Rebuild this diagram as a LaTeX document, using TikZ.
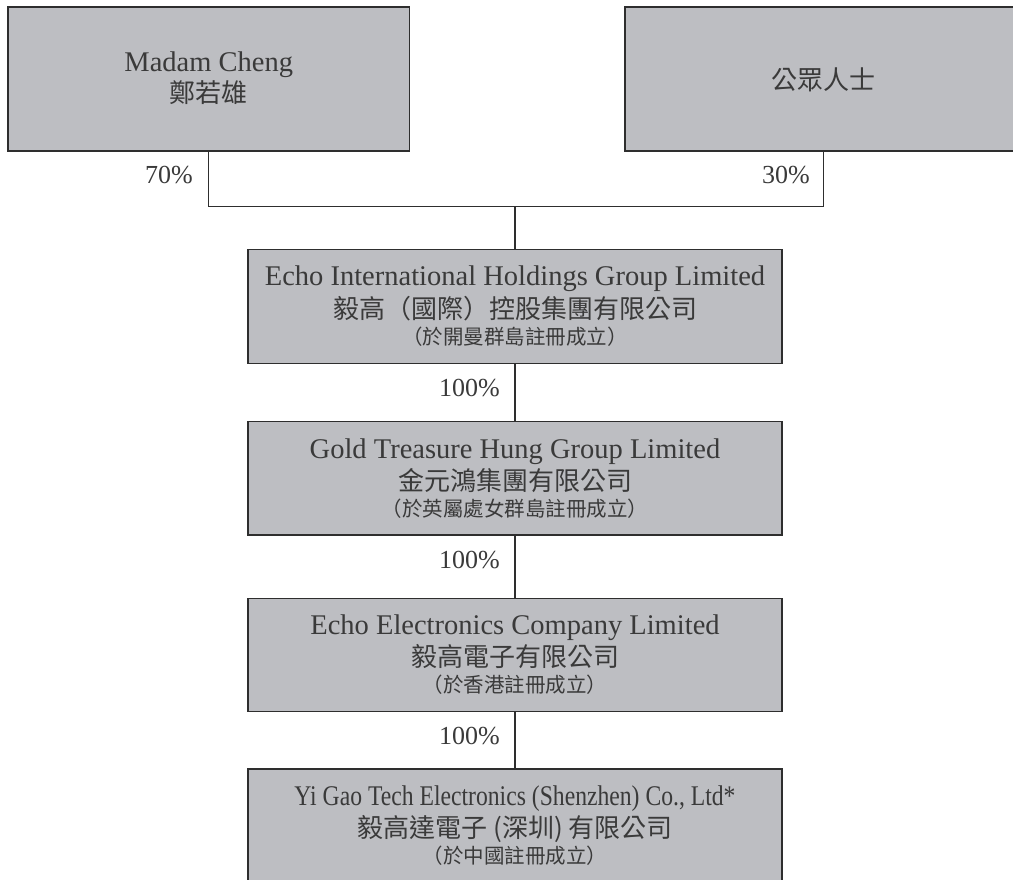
\documentclass[tikz,border=0pt]{standalone}
\usepackage{fontspec}
\setmainfont{Liberation Serif}
\newfontfamily\cjkfont{Noto Sans CJK TC}
\definecolor{boxfill}{HTML}{BDBEC2}
\definecolor{boxline}{HTML}{2E2E2E}
\definecolor{txt}{HTML}{3A3A3A}
\tikzset{
  box/.style={rectangle, draw=boxline, fill=boxfill, line width=1.3pt, inner sep=0pt, outer sep=0pt},
  latin/.style={font=\fontsize{28.5}{34}\selectfont, text=txt, inner sep=0pt, anchor=base},
  cjkmain/.style={font=\cjkfont\fontsize{26}{30}\selectfont, text=txt, inner sep=0pt, anchor=base},
  cjksmall/.style={font=\cjkfont\fontsize{20.5}{24}\selectfont, text=txt, inner sep=0pt, anchor=base},
  pct/.style={font=\fontsize{26}{30}\selectfont, text=txt, inner sep=0pt, anchor=base east},
  conn/.style={draw=boxline, line width=1.1pt}
}
\begin{document}
\begin{tikzpicture}[x=1pt,y=-1pt]
\clip (0,0) rectangle (1013,880);
\fill[white] (0,0) rectangle (1013,880);

% top boxes
\node[box, minimum width=401.5pt, minimum height=144pt] (b1) at (208.75,79) {};
\node[box, minimum width=397pt, minimum height=144pt] (b2) at (823.5,79) {};
\node[latin] (b1a) at (208.75,72) {Madam Cheng};
\node[cjkmain] (b1b) at (208.75,103) {鄭若雄};
\node[cjkmain] (b2a) at (823.5,89.5) {公眾人士};

% chain boxes
\node[box, minimum width=534pt, minimum height=113.8pt] (b3) at (515,306.4) {};
\node[box, minimum width=534pt, minimum height=113.3pt] (b4) at (515,478.35) {};
\node[box, minimum width=534pt, minimum height=113.4pt] (b5) at (515,655) {};
\node[box, minimum width=534pt, minimum height=114pt] (b6) at (515,826) {};

\node[latin] (b3a) at (515,285.5) {Echo International Holdings Group Limited};
\node[cjkmain] (b3b) at (515,318.5) {毅高（國際）控股集團有限公司};
\node[cjksmall] (b3c) at (515,344.5) {（於開曼群島註冊成立）};

\node[latin] (b4a) at (515,458) {Gold Treasure Hung Group Limited};
\node[cjkmain] (b4b) at (515,490.5) {金元鴻集團有限公司};
\node[cjksmall] (b4c) at (515,516.5) {（於英屬處女群島註冊成立）};

\node[latin] (b5a) at (515,634.5) {Echo Electronics Company Limited};
\node[cjkmain] (b5b) at (515,666.5) {毅高電子有限公司};
\node[cjksmall] (b5c) at (515,692.5) {（於香港註冊成立）};

\node[latin] (b6a) at (515,805) {\scalebox{0.83}[1]{Yi Gao Tech Electronics (Shenzhen) Co., Ltd*}};
\node[cjkmain] (b6b) at (515,837.5) {毅高達電子 (深圳) 有限公司};
\node[cjksmall] (b6c) at (515,863.5) {（於中國註冊成立）};

% connectors
\coordinate (j) at (515,206.7);
\draw[conn] (b1.south) |- (j) -| (b2.south);
\draw[conn] (j) -- (b3.north);
\draw[conn] (b3.south) -- (b4.north);
\draw[conn] (b4.south) -- (b5.north);
\draw[conn] (b5.south) -- (b6.north);

% percentages
\node[pct] (p1) at (193,183.3) {70\%};
\node[pct] (p2) at (810,183.3) {30\%};
\node[pct] (p3) at (500,396.3) {100\%};
\node[pct] (p4) at (500,568) {100\%};
\node[pct] (p5) at (500,744.7) {100\%};
\end{tikzpicture}
\end{document}
